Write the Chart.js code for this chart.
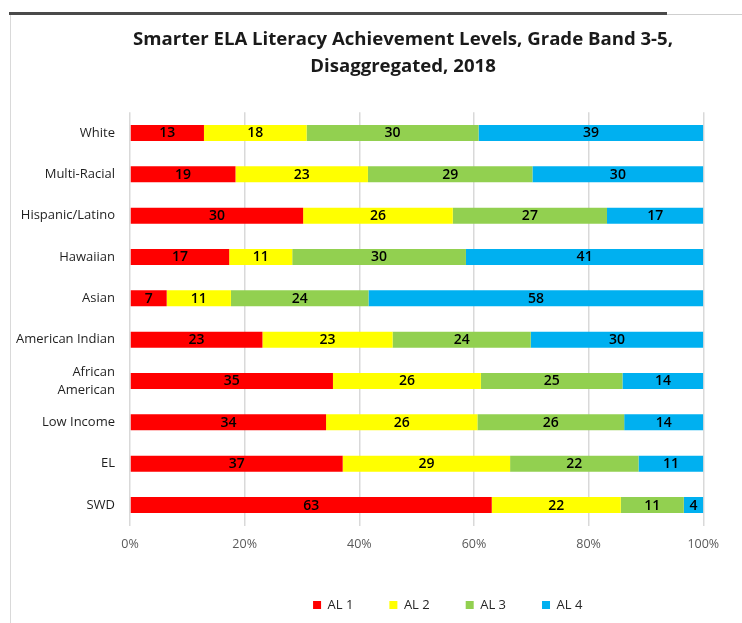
<!DOCTYPE html>
<html>
<head>
<meta charset="utf-8">
<script src="https://cdn.jsdelivr.net/npm/chart.js@4.4.1/dist/chart.umd.min.js"></script>
<style>
  html, body { margin: 0; padding: 0; background: #ffffff; }
  #wrap { position: relative; width: 742px; height: 623px; overflow: hidden; background: #ffffff; }
  #chart { position: absolute; left: 0; top: 0; }
  .frame-top { position: absolute; left: 9px; top: 12px; width: 658px; height: 3px; background: #4a4a4a; }
  .frame-top-light { position: absolute; left: 667px; top: 14px; width: 75px; height: 1px; background: #cfcfcf; }
  .frame-left { position: absolute; left: 10px; top: 15px; width: 1px; height: 608px; background: #d9d9d9; }
</style>
</head>
<body>
<div id="wrap">
  <div class="frame-top"></div>
  <div class="frame-top-light"></div>
  <div class="frame-left"></div>
  <canvas id="chart" width="742" height="623"></canvas>
</div>
<script>
// ---- Data ----
const titleLines = ['Smarter ELA Literacy Achievement Levels, Grade Band 3-5,', 'Disaggregated, 2018'];
const categories = ['White', 'Multi-Racial', 'Hispanic/Latino', 'Hawaiian', 'Asian',
  'American Indian', ['African', 'American'], 'Low Income', 'EL', 'SWD'];
const seriesNames = ['AL 1', 'AL 2', 'AL 3', 'AL 4'];
const xTickValues = [0, 20, 40, 60, 80, 100];

// values printed on the bars
const al1Label = [13, 19, 30, 17, 7, 23, 35, 34, 37, 63];
const al2Label = [18, 23, 26, 11, 11, 23, 26, 26, 29, 22];
const al3Label = [30, 29, 27, 30, 24, 24, 25, 26, 22, 11];
const al4Label = [39, 30, 17, 41, 58, 30, 14, 14, 11, 4];

// share of each bar (percent of row)
const al1Share = [12.9, 18.4, 30.2, 17.3, 6.4, 23.1, 35.4, 34.2, 37.1, 63.1];
const al2Share = [17.9, 23.1, 26.1, 11.0, 11.2, 22.7, 25.8, 26.4, 29.2, 22.5];
const al3Share = [30.0, 28.7, 26.9, 30.3, 24.0, 24.1, 24.7, 25.6, 22.4, 11.0];
const al4Share = [39.2, 29.8, 16.8, 41.4, 58.4, 30.1, 14.1, 13.8, 11.3, 3.4];

const seriesColors = ['#FF0000', '#FFFF00', '#92D050', '#00B0F0'];
const shares = [al1Share, al2Share, al3Share, al4Share];
const shown = [al1Label, al2Label, al3Label, al4Label];

const FONT = 'Open Sans';

// draw the value labels at the centre of each bar segment
const segmentLabels = {
  id: 'segmentLabels',
  afterDatasetsDraw(chart) {
    const ctx = chart.ctx;
    ctx.save();
    ctx.font = '600 14px "' + FONT + '"';
    ctx.fillStyle = '#000000';
    ctx.textAlign = 'center';
    ctx.textBaseline = 'middle';
    chart.data.datasets.forEach((ds, di) => {
      const meta = chart.getDatasetMeta(di);
      meta.data.forEach((bar, i) => {
        const p = bar.getCenterPoint();
        ctx.fillText(String(shown[di][i]), p.x, p.y + 0.5);
      });
    });
    ctx.restore();
  }
};

// centre the title and legend where the reference has them
const blockPlacement = {
  id: 'blockPlacement',
  afterLayout(chart) {
    const t = chart.titleBlock;
    if (t) { const c = 403, hw = 340; t.left = c - hw; t.right = c + hw; t.width = 2 * hw; }
    const l = chart.legend;
    if (l) { const c = 447.7, hw = 290; l.left = c - hw; l.right = c + hw; l.width = 2 * hw; }
  }
};

new Chart(document.getElementById('chart'), {
  type: 'bar',
  data: {
    labels: categories,
    datasets: seriesNames.map((name, i) => ({
      label: name,
      data: shares[i],
      backgroundColor: seriesColors[i],
      borderWidth: 0,
      categoryPercentage: 1,
      barPercentage: 0.387
    }))
  },
  options: {
    indexAxis: 'y',
    responsive: false,
    animation: false,
    devicePixelRatio: 1,
    layout: { padding: { left: 10, right: 38.7, top: 0, bottom: 1.5 } },
    plugins: {
      title: {
        display: true,
        text: titleLines,
        color: '#1a1a1a',
        font: { family: FONT, size: 18.6, weight: 'bold', lineHeight: 27 / 18.6 },
        padding: { top: 26.5, bottom: 31.8 }
      },
      legend: {
        position: 'bottom',
        labels: {
          boxWidth: 8, boxHeight: 8, padding: 36,
          color: '#262626',
          font: { family: FONT, size: 13 }
        }
      },
      tooltip: { enabled: false }
    },
    scales: {
      x: {
        stacked: true,
        min: 0, max: 100,
        afterBuildTicks(s) { s.ticks = xTickValues.map(v => ({ value: v })); },
        ticks: {
          callback: v => v + '%',
          padding: 11.5,
          color: '#595959',
          font: { family: FONT, size: 12.5 },
          maxRotation: 0
        },
        grid: { color: '#d9d9d9', lineWidth: 1.5, drawTicks: false },
        border: { display: false },
        afterFit(s) { s.paddingLeft = 0; s.paddingRight = 0; s.height = 36.8; }
      },
      y: {
        stacked: true,
        grid: { display: false, drawTicks: false },
        border: { display: false },
        ticks: {
          padding: 15,
          color: '#1f1f1f',
          font: { family: FONT, size: 13, lineHeight: 1.4 }
        },
        afterFit(s) { s.width = 120; }
      }
    }
  },
  plugins: [segmentLabels, blockPlacement]
});
</script>
</body>
</html>
